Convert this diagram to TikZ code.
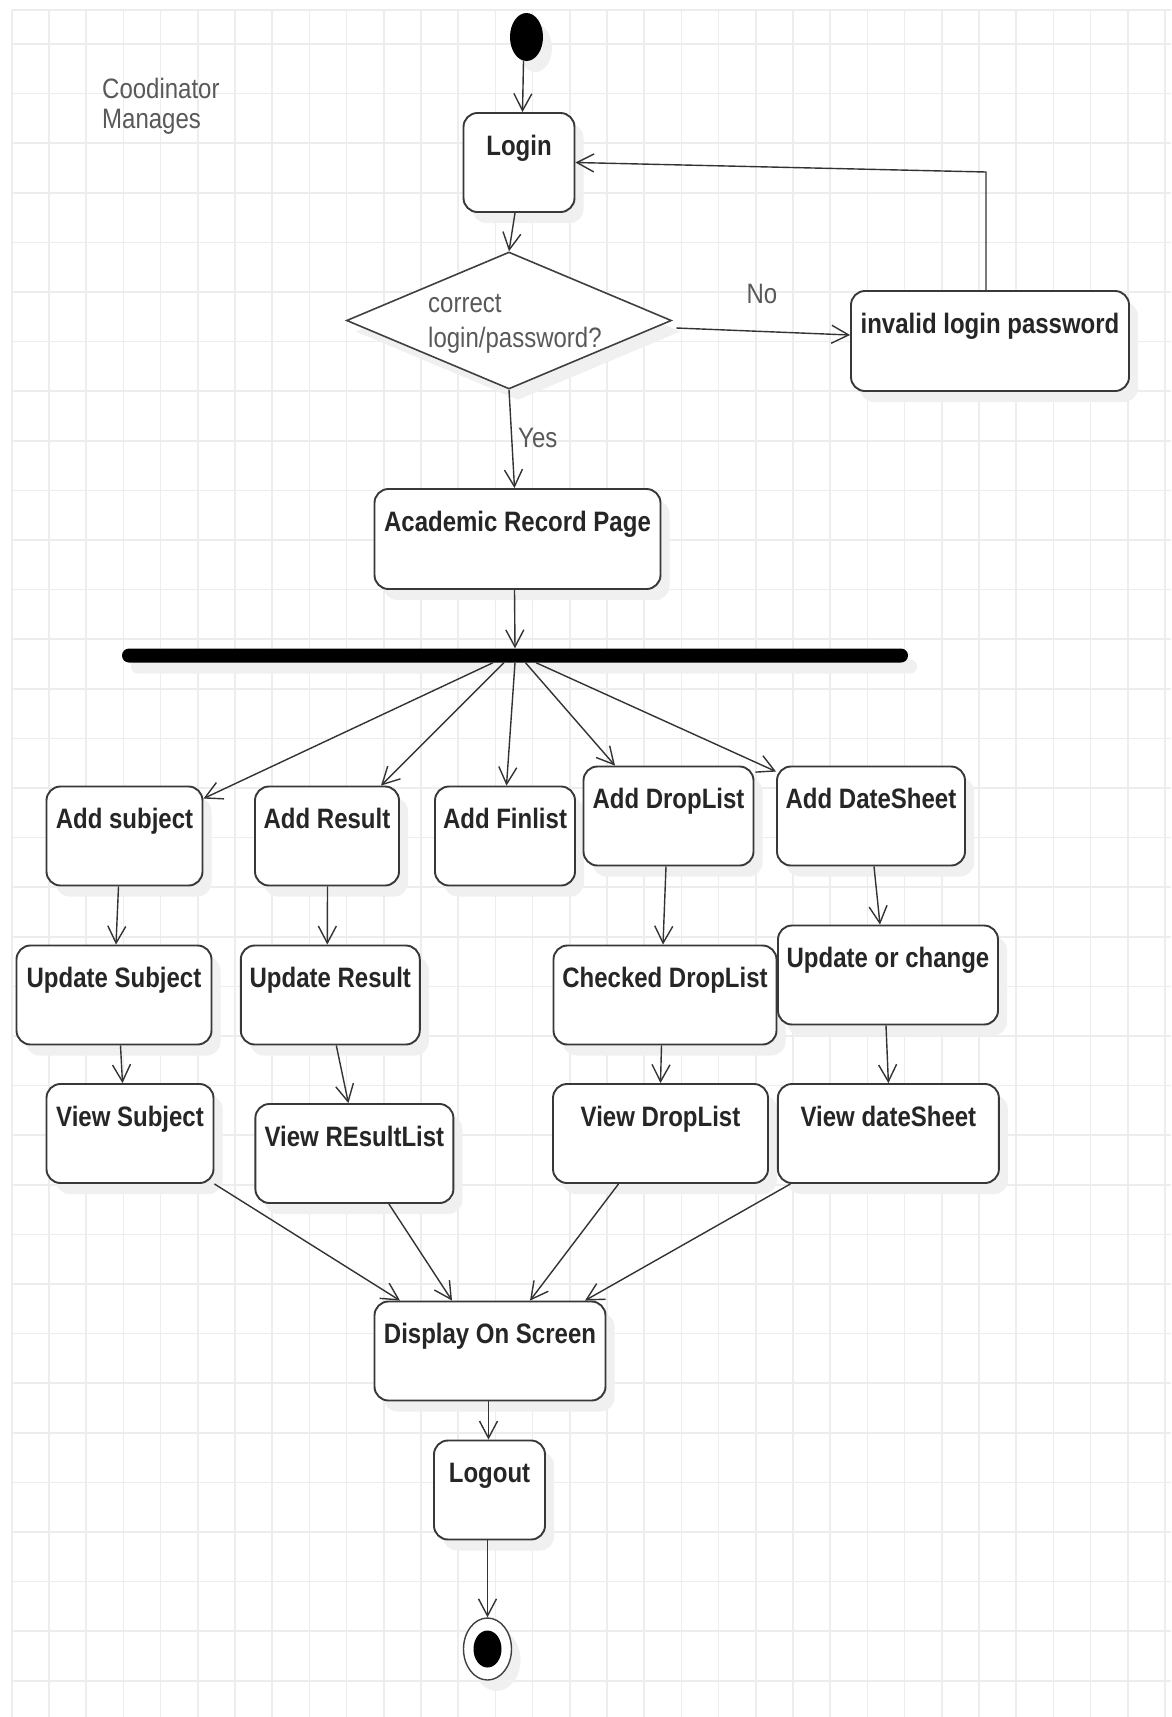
\documentclass[tikz,border=0pt]{standalone}
\usepackage{fontspec}
\setmainfont{Liberation Sans}
\usetikzlibrary{arrows.meta,shapes.geometric,shadows}
% labels are set slightly taller than the font's natural proportions
\newcommand\vstretch[1]{\scalebox{1}[1.17]{#1}}

\begin{document}
\begin{tikzpicture}[x=1pt,y=-1pt,
  gridline/.style={draw=black!7,line width=1.6pt},
  sh/.style={drop shadow={shadow xshift=9pt,shadow yshift=-11pt,fill=black!6,opacity=1}},
  act/.style={draw=black!78,line width=1.9pt,rounded corners=14pt,fill=white,
              minimum height=99pt,inner sep=0pt,sh},
  lbl/.style={anchor=base,font=\bfseries\fontsize{24}{28}\selectfont,text=black!85,inner sep=0pt},
  note/.style={anchor=base west,font=\fontsize{24}{28}\selectfont,text=black!65,inner sep=0pt},
  arr/.style={draw=black!80,line width=1.4pt,-{Straight Barb[length=17pt,width=18pt,line width=1.4pt]}},
]
% page and background grid
\fill[white] (0,0) rectangle (1171,1717);
\useasboundingbox (0,0) rectangle (1171,1717);
\foreach \i in {0,...,31}
  \draw[gridline] ({11.7+37.2*\i},10) -- ({11.7+37.2*\i},1717);
\draw[gridline] (11.7,10) -- (1171,10);
\foreach \j in {0,...,33}
  \draw[gridline] (11.7,{44+49.6*\j}) -- (1171,{44+49.6*\j});

% swimlane caption
\node[note] (role1) at (102,98) {\vstretch{Coodinator}};
\node[note] (role2) at (102,128) {\vstretch{Manages}};

% initial node
\node[ellipse,fill=black,minimum width=33pt,minimum height=48pt,inner sep=0pt,sh] (start) at (526.5,37) {};

% login and credential check
\node[act,minimum width=111pt] (login) at (519,162.5) {};
\node[lbl] (login-l) at (519,155) {\vstretch{Login}};

\node[diamond,draw=black!75,line width=1.6pt,fill=white,minimum width=325pt,
      minimum height=137pt,inner sep=0pt,sh] (dec) at (509,320.5) {};
\node[note] (dec-l1) at (428,312) {\vstretch{correct}};
\node[note] (dec-l2) at (428,347) {\vstretch{login/password?}};

\node[act,minimum width=278pt,minimum height=100pt] (inv) at (990,341) {};
\node[lbl] (inv-l) at (990,333) {\vstretch{invalid login password}};
\node[note,anchor=base] (no) at (762,303) {\vstretch{No}};
\node[note] (yes) at (518,447) {\vstretch{Yes}};

\node[act,minimum width=286pt,minimum height=100pt] (acad) at (517.5,539) {};
\node[lbl] (acad-l) at (517.5,531) {\vstretch{Academic Record Page}};

% fork bar
\node[fill=black,rounded corners=7pt,minimum width=786pt,minimum height=14pt,inner sep=0pt,sh] (bar) at (515,655.5) {};

% first row of activities
\node[act,minimum width=156pt] (addsub) at (124.5,836) {};
\node[lbl] (addsub-l) at (124.5,828.5) {\vstretch{Add subject}};
\node[act,minimum width=144pt] (addres) at (327,836) {};
\node[lbl] (addres-l) at (327,828.5) {\vstretch{Add Result}};
\node[act,minimum width=140pt] (addfin) at (505,836) {};
\node[lbl] (addfin-l) at (505,828.5) {\vstretch{Add Finlist}};
\node[act,minimum width=170pt] (adddrop) at (668.5,816) {};
\node[lbl] (adddrop-l) at (668.5,808.5) {\vstretch{Add DropList}};
\node[act,minimum width=188pt] (adddate) at (871,816) {};
\node[lbl] (adddate-l) at (871,808.5) {\vstretch{Add DateSheet}};

% second row
\node[act,minimum width=195pt] (updsub) at (114,995) {};
\node[lbl] (updsub-l) at (114,987.5) {\vstretch{Update Subject}};
\node[act,minimum width=179pt] (updres) at (330.3,995) {};
\node[lbl] (updres-l) at (330.3,987.5) {\vstretch{Update Result}};
\node[act,minimum width=223pt] (chkdrop) at (665,995) {};
\node[lbl] (chkdrop-l) at (665,987.5) {\vstretch{Checked DropList}};
\node[act,minimum width=220pt] (updchg) at (888,975) {};
\node[lbl] (updchg-l) at (888,967.5) {\vstretch{Update or change}};

% third row
\node[act,minimum width=167pt] (viewsub) at (130,1133.5) {};
\node[lbl] (viewsub-l) at (130,1126) {\vstretch{View Subject}};
\node[act,minimum width=198pt] (viewres) at (354.4,1153.5) {};
\node[lbl] (viewres-l) at (354.4,1146) {\vstretch{View REsultList}};
\node[act,minimum width=215pt] (viewdrop) at (660.5,1133.5) {};
\node[lbl] (viewdrop-l) at (660.5,1126) {\vstretch{View DropList}};
\node[act,minimum width=221pt] (viewdate) at (888.4,1133.5) {};
\node[lbl] (viewdate-l) at (888.4,1126) {\vstretch{View dateSheet}};

% closing activities
\node[act,minimum width=231pt] (display) at (490,1351) {};
\node[lbl] (display-l) at (490,1343.5) {\vstretch{Display On Screen}};
\node[act,minimum width=111pt] (logout) at (489.5,1490) {};
\node[lbl] (logout-l) at (489.5,1482.5) {\vstretch{Logout}};

% final node
\node[ellipse,draw=black!75,line width=1.4pt,fill=white,minimum width=48pt,minimum height=62pt,inner sep=0pt,sh] (endo) at (487.5,1649) {};
\node[ellipse,fill=black,minimum width=28pt,minimum height=37pt,inner sep=0pt] (endi) at (endo.center) {};

% control flow
\coordinate (loopc) at (986,172);
\draw[arr] ([xshift=-3pt]start.south) -- ([xshift=3.5pt]login.north);
\draw[arr] ([xshift=-4pt]login.south) -- (dec.north);
\draw[arr] ([xshift=4pt,yshift=-7.5pt]dec.east) -- ([yshift=6pt]inv.west);
\draw[arr] ([xshift=-4pt]inv.north) -- (loopc) -- (login.east);
\draw[arr] (dec.south) -- ([xshift=-3pt]acad.north);
\draw[arr] ([xshift=-3pt]acad.south) -- (bar.north);

\draw[arr] ([xshift=-22pt]bar.south) -- ([yshift=-13pt]addsub.north east);
\draw[arr] ([xshift=-11pt]bar.south) -- ([xshift=54pt]addres.north);
\draw[arr] (bar.south) -- ([xshift=1.5pt]addfin.north);
\draw[arr] ([xshift=10.5pt]bar.south) -- ([xshift=-53.5pt]adddrop.north);
\draw[arr] ([xshift=21pt]bar.south) -- ([yshift=-6pt]adddate.north west);

\draw[arr] ([xshift=-6pt]addsub.south) -- ([xshift=2pt]updsub.north);
\draw[arr] ([xshift=0.5pt]addres.south) -- ([xshift=-3pt]updres.north);
\draw[arr] ([xshift=-2.5pt]adddrop.south) -- ([xshift=-2pt]chkdrop.north);
\draw[arr] ([xshift=3pt]adddate.south) -- ([xshift=-8pt]updchg.north);

\draw[arr] ([xshift=6.5pt]updsub.south) -- ([xshift=-7.5pt]viewsub.north);
\draw[arr] ([xshift=6pt]updres.south) -- ([xshift=-6pt]viewres.north);
\draw[arr] ([xshift=-3.5pt]chkdrop.south) -- (viewdrop.north);
\draw[arr] ([xshift=-2pt]updchg.south) -- (viewdate.north);

\draw[arr] (viewsub.south east) -- ([xshift=-90pt]display.north);
\draw[arr] ([xshift=34.5pt]viewres.south) -- ([xshift=-38pt]display.north);
\draw[arr] ([xshift=-42pt]viewdrop.south) -- ([xshift=40pt]display.north);
\draw[arr] ([xshift=-98pt]viewdate.south) -- ([xshift=95pt]display.north);

\draw[arr] ([xshift=-1.5pt]display.south) -- ([xshift=-1pt]logout.north);
\draw[arr] ([xshift=-2pt]logout.south) -- (endo.north);
\end{tikzpicture}
\end{document}
